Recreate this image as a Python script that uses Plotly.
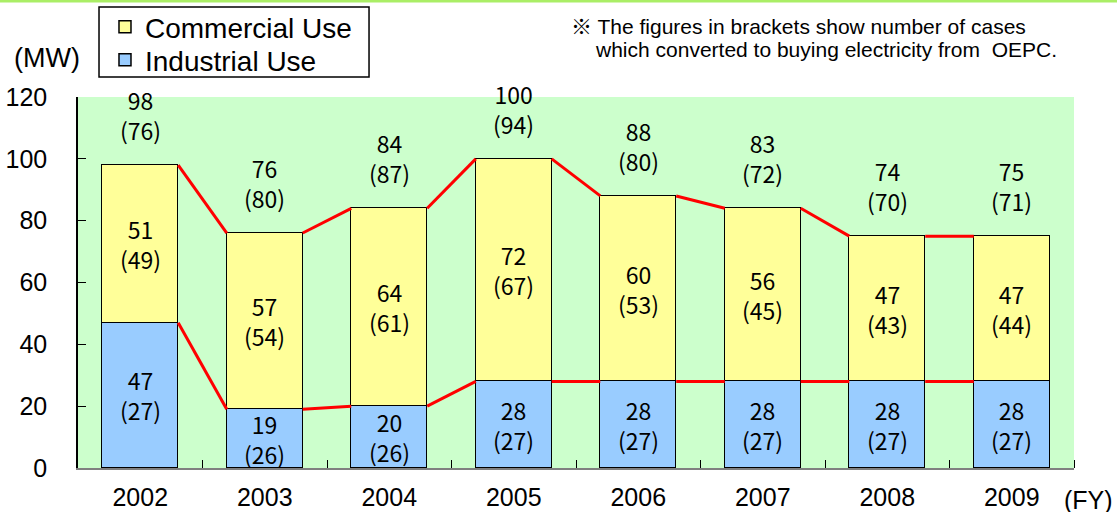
import plotly.graph_objects as go

years = ["2002", "2003", "2004", "2005", "2006", "2007", "2008", "2009"]
industrial_mw = [47, 19, 20, 28, 28, 28, 28, 28]
industrial_cases = [27, 26, 26, 27, 27, 27, 27, 27]
commercial_mw = [51, 57, 64, 72, 60, 56, 47, 47]
commercial_cases = [49, 54, 61, 67, 53, 45, 43, 44]
total_mw_label = [98, 76, 84, 100, 88, 83, 74, 75]
total_cases = [76, 80, 87, 94, 80, 72, 70, 71]

BAR_W = 0.61
LABEL_FONT = dict(family="Noto Sans CJK JP, Noto Sans, sans-serif", size=23, color="black")
AX_FONT = dict(family="Arial, Liberation Sans, Noto Sans CJK JP, sans-serif", size=25, color="black")
NOTE_FONT = dict(family="Arial, Liberation Sans, Noto Sans CJK JP, sans-serif", size=21, color="black")
LEG_FONT = dict(family="Arial, Liberation Sans, sans-serif", size=28, color="black")

xs = list(range(len(years)))
totals = [a + b for a, b in zip(industrial_mw, commercial_mw)]

fig = go.Figure()
fig.add_trace(go.Bar(
    x=xs, y=industrial_mw, name="Industrial Use", width=BAR_W, legend="legend2",
    marker=dict(color="#99CCFF", line=dict(color="black", width=1.5)),
    hoverinfo="skip",
))
fig.add_trace(go.Bar(
    x=xs, y=commercial_mw, name="Commercial Use", width=BAR_W, legend="legend",
    marker=dict(color="#FFFF99", line=dict(color="black", width=1.5)),
    hoverinfo="skip",
))


def connectors(vals):
    lx, ly = [], []
    for i in range(len(vals) - 1):
        lx += [i + BAR_W / 2, i + 1 - BAR_W / 2, None]
        ly += [vals[i], vals[i + 1], None]
    return lx, ly


for series in (industrial_mw, totals):
    lx, ly = connectors(series)
    fig.add_trace(go.Scatter(x=lx, y=ly, mode="lines", showlegend=False,
                             line=dict(color="#FF0000", width=3), hoverinfo="skip"))

annotations = []
for i in xs:
    annotations.append(dict(x=i, y=industrial_mw[i] / 2, xref="x", yref="y",
                            text=f"{industrial_mw[i]}<br>({industrial_cases[i]})",
                            showarrow=False, font=LABEL_FONT, yanchor="middle"))
    annotations.append(dict(x=i, y=industrial_mw[i] + commercial_mw[i] / 2, xref="x", yref="y",
                            text=f"{commercial_mw[i]}<br>({commercial_cases[i]})",
                            showarrow=False, font=LABEL_FONT, yanchor="middle"))
    annotations.append(dict(x=i, y=totals[i], xref="x", yref="y",
                            text=f"{total_mw_label[i]}<br>({total_cases[i]})",
                            showarrow=False, font=LABEL_FONT, yanchor="middle", yshift=50))

annotations += [
    dict(x=-0.031, y=1.105, xref="paper", yref="paper", text="(MW)", showarrow=False,
         font=dict(family="Arial, Liberation Sans, sans-serif", size=27, color="black"),
         xanchor="center", yanchor="middle"),
    dict(x=1.015, y=-0.086, xref="paper", yref="paper", text="(FY)", showarrow=False,
         font=AX_FONT, xanchor="center", yanchor="middle"),
    dict(x=0.493, y=1.189, xref="paper", yref="paper",
         text="※ The figures in brackets show number of cases", showarrow=False,
         font=NOTE_FONT, xanchor="left", yanchor="middle"),
    dict(x=0.517, y=1.127, xref="paper", yref="paper",
         text="which converted to buying electricity from  OEPC.", showarrow=False,
         font=NOTE_FONT, xanchor="left", yanchor="middle"),
]

leg_common = dict(xanchor="left", yanchor="middle", borderwidth=0,
                  bgcolor="rgba(0,0,0,0)", font=LEG_FONT, itemwidth=30)

fig.update_layout(
    width=1117, height=512,
    margin=dict(l=78, r=43, t=97, b=44, autoexpand=False),
    paper_bgcolor="white", plot_bgcolor="#CCFFCC",
    barmode="stack", bargap=0,
    annotations=annotations,
    legend=dict(x=0.0271, y=1.1887, **leg_common),
    legend2=dict(x=0.0271, y=1.0997, **leg_common),
    shapes=[
        dict(type="rect", xref="paper", yref="paper", x0=-0.1, x1=1.1,
             y0=1.2615 - 2.5 / 371, y1=1.27, fillcolor="#AAEE66", line=dict(width=0),
             layer="above"),
        dict(type="rect", xref="paper", yref="paper", x0=0.0211, x1=0.2922,
             y0=1.0539, y1=1.2426, fillcolor="white",
             line=dict(color="black", width=1.5), layer="below"),
    ],
    showlegend=True,
)

fig.update_xaxes(
    range=[-0.5, 7.5], tickmode="array", tickvals=xs, ticktext=years,
    ticks="", showline=True, linecolor="#808080", linewidth=2, showgrid=False,
    zeroline=False, tickfont=AX_FONT, ticklabelstandoff=6, automargin=False,
    minor=dict(tickmode="array", tickvals=[i + 0.5 for i in xs], ticks="inside",
               ticklen=8, tickcolor="black", tickwidth=1.2, showgrid=False),
)
fig.update_yaxes(
    range=[0, 120], dtick=20, ticks="inside", ticklen=8, tickcolor="black", tickwidth=1.2,
    showline=True, linecolor="black", linewidth=1.5, showgrid=False, zeroline=False,
    tickfont=AX_FONT, ticklabelstandoff=24, automargin=False,
)

fig.write_html("out.html", config={"displayModeBar": False},
               post_script="document.body.style.margin='0';")
